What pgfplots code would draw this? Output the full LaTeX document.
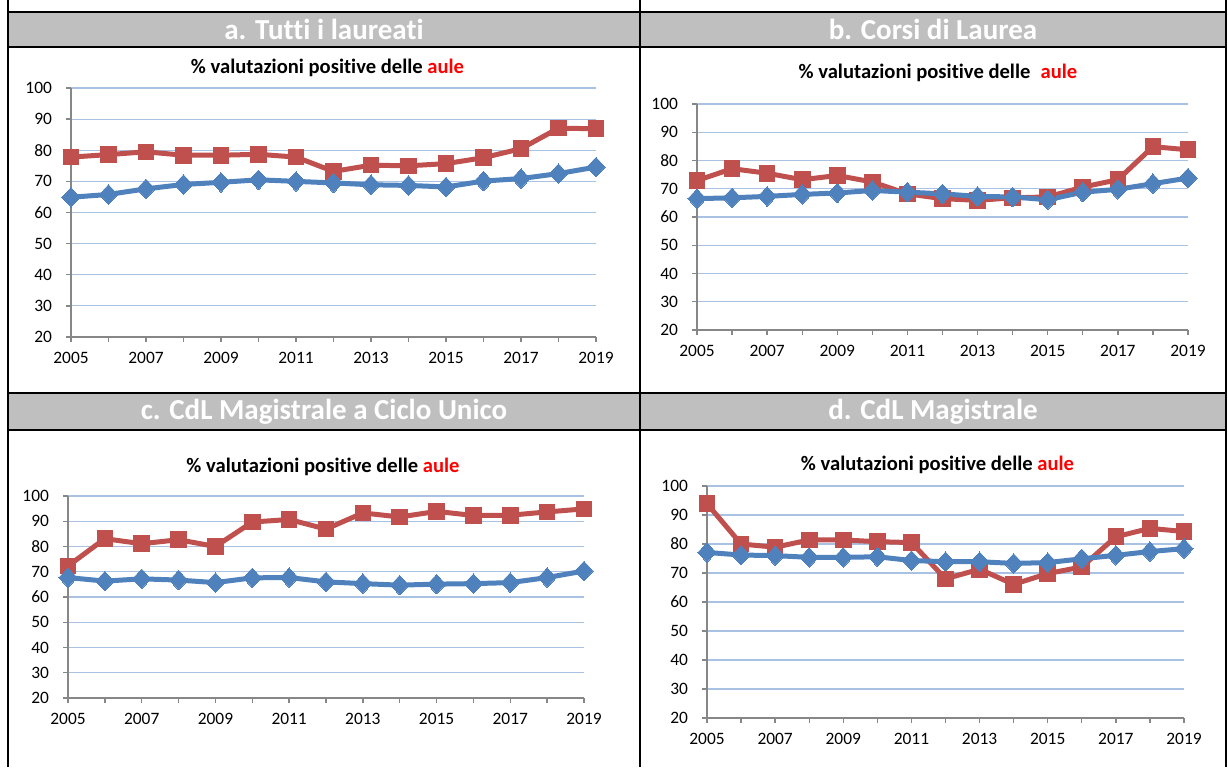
\documentclass[border=0pt]{standalone}
\usepackage{fontspec}
\setmainfont{Carlito}[Ligatures=NoCommon]
\usepackage{pgfplots}
\pgfplotsset{compat=1.18}
\definecolor{hdrgray}{HTML}{BFBFBF}
\definecolor{axgray}{HTML}{878787}
\definecolor{gridblue}{HTML}{A9C1E3}
\definecolor{xred}{HTML}{C0504D}
\definecolor{xblue}{HTML}{4F81BD}
\definecolor{titred}{HTML}{FF0000}
\pgfplotsset{panel/.style={
  scale only axis, anchor=south west,
  xmin=2005,xmax=2019,ymin=20,ymax=100,
  xtick={2005,2007,...,2019}, minor xtick={2006,2008,...,2018},
  ytick={20,30,...,100},
  axis x line*=bottom, axis y line*=left,
  axis line style={draw=axgray, line width=0.7pt, -},
  every tick/.style={draw=axgray, line width=0.7pt},
  major tick length=2.5pt, minor tick length=2.5pt, tick align=outside,
  ymajorgrids, major grid style={draw=gridblue, line width=0.6pt},
  ticklabel style={font=\fontsize{8.7}{10}\selectfont},
  xticklabel style={/pgf/number format/1000 sep={}, yshift=-1.5pt},
  yticklabel style={xshift=-3.5pt},
  /pgf/number format/assume math mode=true,
  clip=false,
  redline/.style={draw=xred, line width=2.5pt, mark=square*, mark size=3.9pt, mark options={fill=xred, draw=xred, line width=0pt}},
  blueline/.style={draw=xblue, line width=2.5pt, mark=diamond*, mark size=4.9pt, mark options={fill=xblue, draw=xblue, line width=0pt, xscale=1.25}},
}}
\newcommand{\ttl}[1]{\bfseries\fontsize{10.3}{12}\selectfont #1}
\newcommand{\hdr}{\bfseries\fontsize{14.5}{16}\selectfont\color{white}}
\begin{document}
\begin{tikzpicture}[x=0.5pt,y=0.5pt]
\path[use as bounding box] (0,0) rectangle (1228,767);
\fill[hdrgray] (8,755) rectangle (1226,720);
\fill[hdrgray] (8,374) rectangle (1226,337);
\draw[line width=1pt] (8,0)--(8,767) (640,0)--(640,767) (1226,0)--(1226,767);
\draw[line width=1pt] (8,755)--(1226,755) (8,720)--(1226,720) (8,374)--(1226,374) (8,337)--(1226,337);
\node at (324,737.5) {\hdr a. Tutti i laureati};
\node at (933,737.5) {\hdr b. Corsi di Laurea};
\node at (324,355.5) {\hdr c. CdL Magistrale a Ciclo Unico};
\node at (933,355.5) {\hdr d. CdL Magistrale};
\node at (327.5,699) {\ttl{\% valutazioni positive delle \textcolor{titred}{aule}}};
\node at (938,694) {\ttl{\% valutazioni positive delle\hspace{0.5em}\textcolor{titred}{aule}}};
\node at (323,300) {\ttl{\% valutazioni positive delle \textcolor{titred}{aule}}};
\node at (937.5,302) {\ttl{\% valutazioni positive delle \textcolor{titred}{aule}}};

% panel a
\begin{axis}[panel, at={(35.5pt,215pt)}, width=262.5pt, height=124.5pt]
\addplot[redline] coordinates {(2005,77.8)(2006,78.6)(2007,79.5)(2008,78.4)(2009,78.4)(2010,78.7)(2011,77.8)(2012,73.2)(2013,75.2)(2014,75.0)(2015,75.7)(2016,77.6)(2017,80.5)(2018,87.1)(2019,86.9)};
\addplot[blueline] coordinates {(2005,64.9)(2006,65.8)(2007,67.6)(2008,69.0)(2009,69.7)(2010,70.5)(2011,70.0)(2012,69.5)(2013,68.9)(2014,68.7)(2015,68.2)(2016,70.1)(2017,70.9)(2018,72.5)(2019,74.6)};
\end{axis}
% panel b
\begin{axis}[panel, at={(348.5pt,218.5pt)}, width=245.5pt, height=113pt]
\addplot[redline] coordinates {(2005,72.9)(2006,77.1)(2007,75.5)(2008,73.2)(2009,74.7)(2010,72.4)(2011,68.2)(2012,66.5)(2013,65.9)(2014,66.8)(2015,67.1)(2016,70.6)(2017,73.2)(2018,84.9)(2019,83.8)};
\addplot[blueline] coordinates {(2005,66.5)(2006,66.8)(2007,67.3)(2008,68.0)(2009,68.5)(2010,69.4)(2011,68.8)(2012,68.2)(2013,67.3)(2014,67.1)(2015,66.1)(2016,68.8)(2017,69.8)(2018,71.8)(2019,73.8)};
\end{axis}
% panel c
\begin{axis}[panel, at={(34pt,34.5pt)}, width=258pt, height=101pt]
\addplot[redline] coordinates {(2005,72.3)(2006,83.1)(2007,81.1)(2008,82.7)(2009,80.0)(2010,89.7)(2011,90.7)(2012,86.9)(2013,93.3)(2014,91.7)(2015,93.9)(2016,92.3)(2017,92.4)(2018,93.7)(2019,94.9)};
\addplot[blueline] coordinates {(2005,67.7)(2006,66.3)(2007,67.2)(2008,66.7)(2009,65.7)(2010,67.6)(2011,67.7)(2012,66.0)(2013,65.3)(2014,64.7)(2015,65.1)(2016,65.3)(2017,65.7)(2018,67.7)(2019,70.3)};
\end{axis}
% panel d
\begin{axis}[panel, at={(353.5pt,24.5pt)}, width=238.5pt, height=116pt]
\addplot[redline] coordinates {(2005,93.9)(2006,80.0)(2007,78.9)(2008,81.4)(2009,81.4)(2010,80.8)(2011,80.5)(2012,68.0)(2013,71.3)(2014,66.1)(2015,69.8)(2016,72.1)(2017,82.5)(2018,85.4)(2019,84.3)};
\addplot[blueline] coordinates {(2005,77.1)(2006,76.2)(2007,76.0)(2008,75.4)(2009,75.4)(2010,75.6)(2011,74.3)(2012,73.9)(2013,73.9)(2014,73.3)(2015,73.6)(2016,74.9)(2017,76.1)(2018,77.4)(2019,78.4)};
\end{axis}
\end{tikzpicture}
\end{document}
